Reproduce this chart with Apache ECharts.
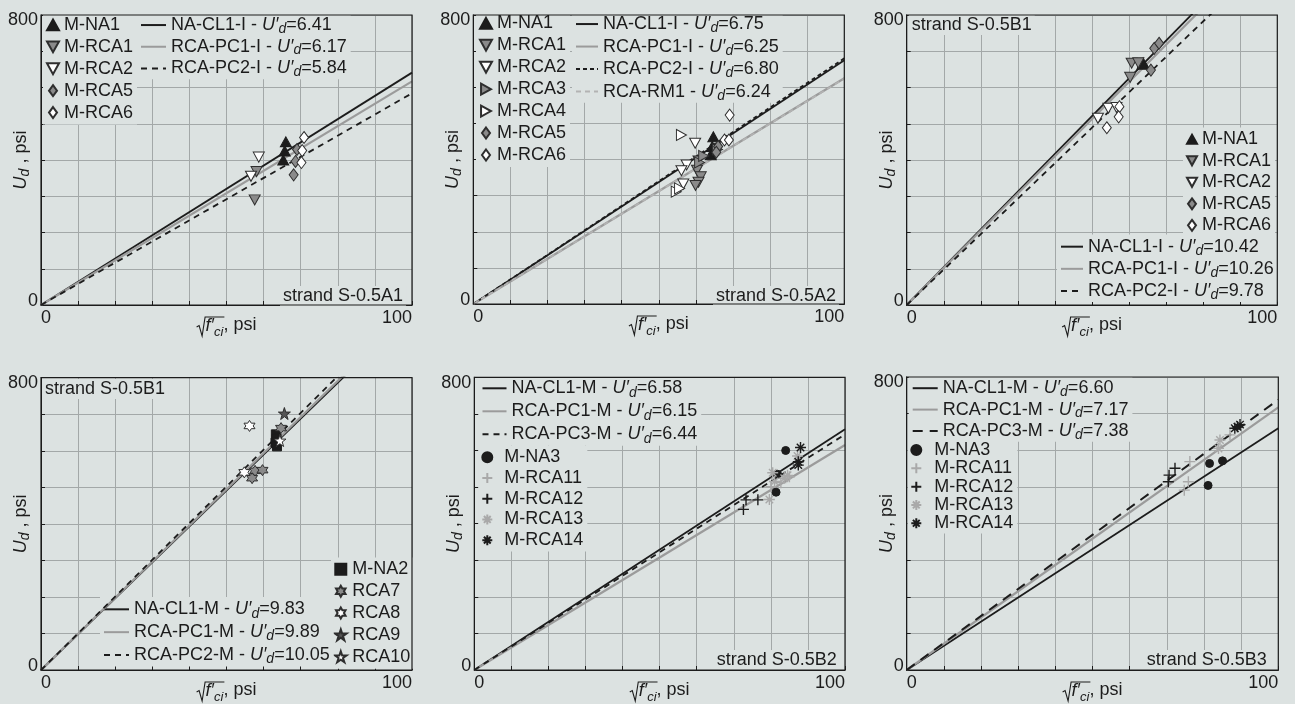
<!DOCTYPE html>
<html>
<head>
<meta charset="utf-8">
<script src="https://cdn.jsdelivr.net/npm/echarts@6/dist/echarts.min.js"></script>
<style>
  html, body { margin: 0; padding: 0; background: #dce2e1; }
  #chart { width: 1295px; height: 704px; }
</style>
</head>
<body>
<div id="chart"></div>
<script>
// ---------- axis ticks ----------
const xTickLabels = ['0', '100'];
const yTickLabels = ['0', '800'];
const X_MAX = 100, Y_MAX = 800;

// ---------- strand S-0.5A1 ----------
const A1_lineNames = ['NA-CL1-I', 'RCA-PC1-I', 'RCA-PC2-I'];
const A1_slopes = [6.41, 6.17, 5.84];
const A1_NA1  = [[66.0, 450], [65.7, 425], [65.3, 400]];
const A1_RCA1 = [[58.1, 368], [57.6, 290]];
const A1_RCA2 = [[58.7, 408], [56.6, 355]];
const A1_RCA5 = [[69.0, 429], [68.6, 396], [68.1, 359]];
const A1_RCA6 = [[70.9, 462], [70.4, 426], [70.2, 393]];

// ---------- strand S-0.5A2 ----------
const A2_lineNames = ['NA-CL1-I', 'RCA-PC1-I', 'RCA-PC2-I', 'RCA-RM1'];
const A2_slopes = [6.75, 6.25, 6.80, 6.24];
const A2_NA1  = [[64.7, 463], [64.4, 436], [64.0, 413]];
const A2_RCA1 = [[60.7, 396], [60.3, 370], [61.3, 352], [60.7, 337], [59.9, 328]];
const A2_RCA2 = [[59.8, 445], [57.5, 385], [56.1, 369], [56.6, 332]];
const A2_RCA3 = [[61.0, 392], [62.1, 410], [65.8, 428]];
const A2_RCA4 = [[56.1, 468], [54.7, 311], [55.6, 320]];
const A2_RCA5 = [[66.0, 436], [65.5, 420]];
const A2_RCA6 = [[69.1, 523], [67.7, 454], [68.9, 454]];

// ---------- strand S-0.5B1 (I) ----------
const B1I_lineNames = ['NA-CL1-I', 'RCA-PC1-I', 'RCA-PC2-I'];
const B1I_slopes = [10.42, 10.26, 9.78];
const B1I_NA1  = [[63.8, 668], [63.6, 664]];
const B1I_RCA1 = [[60.7, 667], [62.5, 668], [60.3, 628]];
const B1I_RCA2 = [[51.6, 515], [54.4, 543], [56.6, 545]];
const B1I_RCA5 = [[66.8, 708], [68.1, 722], [65.9, 648]];
const B1I_RCA6 = [[57.4, 547], [57.2, 519], [54.0, 489]];

// ---------- strand S-0.5B1 (M) ----------
const B1M_lineNames = ['NA-CL1-M', 'RCA-PC1-M', 'RCA-PC2-M'];
const B1M_slopes = [9.83, 9.89, 10.05];
const B1M_NA2   = [[63.3, 645], [63.5, 633], [63.2, 622], [63.6, 612]];
const B1M_RCA7  = [[57.7, 545], [59.7, 547], [56.9, 525], [64.7, 662]];
const B1M_RCA8  = [[56.2, 668], [54.8, 541]];
const B1M_RCA9  = [[65.6, 702]];
const B1M_RCA10 = [[64.4, 628]];

// ---------- strand S-0.5B2 ----------
const B2_lineNames = ['NA-CL1-M', 'RCA-PC1-M', 'RCA-PC3-M'];
const B2_slopes = [6.58, 6.15, 6.44];
const B2_NA3   = [[84.0, 600], [81.8, 535], [81.4, 486]];
const B2_RCA11 = [[80.0, 501], [82.7, 512], [85.0, 528]];
const B2_RCA12 = [[72.6, 439], [73.3, 465], [76.5, 465]];
const B2_RCA13 = [[87.2, 585], [80.5, 539], [83.6, 524], [84.5, 532], [79.6, 466], [81.0, 515]];
const B2_RCA14 = [[88.0, 608], [87.4, 569], [87.4, 560]];

// ---------- strand S-0.5B3 ----------
const B3_lineNames = ['NA-CL1-M', 'RCA-PC1-M', 'RCA-PC3-M'];
const B3_slopes = [6.60, 7.17, 7.38];
const B3_NA3   = [[81.5, 564], [85.0, 571], [81.1, 504]];
const B3_RCA11 = [[76.2, 569], [75.8, 514], [74.7, 491], [87.0, 642]];
const B3_RCA12 = [[72.2, 551], [70.6, 532], [70.4, 514]];
const B3_RCA13 = [[84.3, 628], [83.9, 605]];
const B3_RCA14 = [[88.3, 660], [89.7, 670], [89.0, 664]];

// ---------- styling ----------
const FONT = '"Liberation Sans", Arial, Helvetica, sans-serif';
const FS = 18;
const BG = '#dce2e1';
const INK = '#1c1c1c';
const EDGE = '#2e2e2e';
const MID = '#8a8a8a';
const LIGHT = '#a9a9a9';
const GRID_LINE = '#a3a8a8';

const SYM = {
  up: 'path://M5,0L10,9L0,9Z',
  down: 'path://M0,0L10,0L5,9Z',
  right: 'path://M0,0L9,5L0,10Z',
  diamond: 'path://M4,0L8,5.5L4,11L0,5.5Z',
  circle: 'path://M5,0A5,5,0,1,1,5,10A5,5,0,1,1,5,0Z',
  square: 'path://M0,0H10V10H0Z',
  plus: 'path://M5,0V10M0,5H10',
  aster: 'path://M5,0V10M0,5H10M1.6,1.6L8.4,8.4M8.4,1.6L1.6,8.4',
  star6: 'path://M5,0L6.44,2.5L9.33,2.5L7.89,5L9.33,7.5L6.44,7.5L5,10L3.56,7.5L0.67,7.5L2.11,5L0.67,2.5L3.56,2.5Z',
  star5: 'path://M5,0L6.12,3.45L9.76,3.45L6.82,5.59L7.94,9.05L5,6.91L2.06,9.05L3.18,5.59L0.24,3.45L3.88,3.45Z'
};

const MARK = {
  NA1:   { sym: SYM.up,      size: [11, 10], fill: INK,    stroke: INK,  bw: 1 },
  RCA1:  { sym: SYM.down,    size: [11, 10], fill: MID,    stroke: EDGE, bw: 1 },
  RCA2:  { sym: SYM.down,    size: [11, 10], fill: '#fff', stroke: EDGE, bw: 1 },
  RCA3:  { sym: SYM.right,   size: [10, 11], fill: MID,    stroke: EDGE, bw: 1 },
  RCA4:  { sym: SYM.right,   size: [10, 11], fill: '#fff', stroke: EDGE, bw: 1 },
  RCA5:  { sym: SYM.diamond, size: [9, 12],  fill: MID,    stroke: EDGE, bw: 1 },
  RCA6:  { sym: SYM.diamond, size: [9, 12],  fill: '#fff', stroke: EDGE, bw: 1 },
  NA2:   { sym: SYM.square,  size: [9, 9],   fill: INK,    stroke: INK,  bw: 1 },
  RCA7:  { sym: SYM.star6,   size: [11, 11], fill: MID,    stroke: EDGE, bw: 1 },
  RCA8:  { sym: SYM.star6,   size: [11, 11], fill: '#fff', stroke: EDGE, bw: 1 },
  RCA9:  { sym: SYM.star5,   size: [12, 12], fill: '#555', stroke: EDGE, bw: 1 },
  RCA10: { sym: SYM.star5,   size: [12, 12], fill: '#fff', stroke: EDGE, bw: 1 },
  NA3:   { sym: SYM.circle,  size: [8, 8],   fill: INK,    stroke: INK,  bw: 1 },
  RCA11: { sym: SYM.plus,    size: [11, 11], fill: LIGHT,  stroke: LIGHT, bw: 1.4 },
  RCA12: { sym: SYM.plus,    size: [11, 11], fill: INK,    stroke: INK,  bw: 1.4 },
  RCA13: { sym: SYM.aster,   size: [11, 11], fill: LIGHT,  stroke: LIGHT, bw: 1.4 },
  RCA14: { sym: SYM.aster,   size: [11, 11], fill: INK,    stroke: INK,  bw: 1.4 }
};

const LINE = {
  black:     { color: INK,       width: 1.8, type: 'solid' },
  gray:      { color: '#9b9b9b', width: 2.2, type: 'solid' },
  dash:      { color: INK,       width: 1.8, type: [6, 5] },
  dashShort: { color: INK,       width: 1.8, type: [4, 3] },
  dashLight: { color: '#b3b3b3', width: 1.8, type: [5, 4] },
  dashLong:  { color: INK,       width: 2.0, type: [10, 7] }
};

// plot rectangles (px)
const GRIDS = [
  { left: 41,    top: 15,    width: 371,   height: 290 },
  { left: 473.3, top: 15,    width: 371,   height: 289 },
  { left: 906.7, top: 15,    width: 370.6, height: 290 },
  { left: 41,    top: 377.7, width: 371,   height: 292.3 },
  { left: 474.3, top: 377.3, width: 370.7, height: 292.7 },
  { left: 906.7, top: 377,   width: 371.6, height: 293 }
];

const panels = [
  {
    key: 'A1', strand: { text: 'strand S-0.5A1', left: 280, top: 286 },
    lineNames: A1_lineNames, slopes: A1_slopes,
    lineStyles: [LINE.black, LINE.gray, LINE.dash],
    points: [['M-NA1', A1_NA1, MARK.NA1], ['M-RCA1', A1_RCA1, MARK.RCA1], ['M-RCA2', A1_RCA2, MARK.RCA2],
             ['M-RCA5', A1_RCA5, MARK.RCA5], ['M-RCA6', A1_RCA6, MARK.RCA6]],
    pointLegend: { left: 43, top: 13, itemWidth: 12, itemHeight: 11, rowH: 21.9 },
    lineLegend:  { left: 137, top: 13.2, itemWidth: 25, itemHeight: 10, rowH: 21.7 }
  },
  {
    key: 'A2', strand: { text: 'strand S-0.5A2', left: 713, top: 286 },
    lineNames: A2_lineNames, slopes: A2_slopes,
    lineStyles: [LINE.black, LINE.gray, LINE.dashShort, LINE.dashLight],
    points: [['M-NA1', A2_NA1, MARK.NA1], ['M-RCA1', A2_RCA1, MARK.RCA1], ['M-RCA2', A2_RCA2, MARK.RCA2],
             ['M-RCA3', A2_RCA3, MARK.RCA3], ['M-RCA4', A2_RCA4, MARK.RCA4], ['M-RCA5', A2_RCA5, MARK.RCA5],
             ['M-RCA6', A2_RCA6, MARK.RCA6]],
    pointLegend: { left: 476, top: 11.3, itemWidth: 12, itemHeight: 11, rowH: 21.95 },
    lineLegend:  { left: 572, top: 11.8, itemWidth: 22, itemHeight: 10, rowH: 22.5 }
  },
  {
    key: 'B1I', strand: { text: 'strand S-0.5B1', left: 908.7, top: 15 },
    lineNames: B1I_lineNames, slopes: B1I_slopes,
    lineStyles: [LINE.black, LINE.gray, LINE.dash],
    points: [['M-NA1', B1I_NA1, MARK.NA1], ['M-RCA1', B1I_RCA1, MARK.RCA1], ['M-RCA2', B1I_RCA2, MARK.RCA2],
             ['M-RCA5', B1I_RCA5, MARK.RCA5], ['M-RCA6', B1I_RCA6, MARK.RCA6]],
    pointLegend: { left: 1183, top: 127.6, itemWidth: 10, itemHeight: 11, rowH: 21.5 },
    lineLegend:  { left: 1057, top: 234.6, itemWidth: 22, itemHeight: 10, rowH: 22.15 }
  },
  {
    key: 'B1M', strand: { text: 'strand S-0.5B1', left: 42, top: 379 },
    lineNames: B1M_lineNames, slopes: B1M_slopes,
    lineStyles: [LINE.black, LINE.gray, LINE.dash],
    points: [['M-NA2', B1M_NA2, MARK.NA2], ['RCA7', B1M_RCA7, MARK.RCA7], ['RCA8', B1M_RCA8, MARK.RCA8],
             ['RCA9', B1M_RCA9, MARK.RCA9], ['RCA10', B1M_RCA10, MARK.RCA10]],
    pointLegend: { left: 331, top: 557.4, itemWidth: 13, itemHeight: 11, rowH: 21.85 },
    lineLegend:  { left: 100, top: 596.9, itemWidth: 25, itemHeight: 10, rowH: 22.85 }
  },
  {
    key: 'B2', strand: { text: 'strand S-0.5B2', left: 713.7, top: 650 },
    lineNames: B2_lineNames, slopes: B2_slopes,
    lineStyles: [LINE.black, LINE.gray, LINE.dash],
    points: [['M-NA3', B2_NA3, MARK.NA3], ['M-RCA11', B2_RCA11, MARK.RCA11], ['M-RCA12', B2_RCA12, MARK.RCA12],
             ['M-RCA13', B2_RCA13, MARK.RCA13], ['M-RCA14', B2_RCA14, MARK.RCA14]],
    pointLegend: { left: 478.3, top: 446, itemWidth: 24, itemHeight: 10, rowH: 20.7 },
    lineLegend:  { left: 478.5, top: 375.8, itemWidth: 24, itemHeight: 10, rowH: 23 }
  },
  {
    key: 'B3', strand: { text: 'strand S-0.5B3', left: 1143.7, top: 650 },
    lineNames: B3_lineNames, slopes: B3_slopes,
    lineStyles: [LINE.black, LINE.gray, LINE.dashLong],
    points: [['M-NA3', B3_NA3, MARK.NA3], ['M-RCA11', B3_RCA11, MARK.RCA11], ['M-RCA12', B3_RCA12, MARK.RCA12],
             ['M-RCA13', B3_RCA13, MARK.RCA13], ['M-RCA14', B3_RCA14, MARK.RCA14]],
    pointLegend: { left: 907.3, top: 439.9, itemWidth: 26, itemHeight: 10, rowH: 18.3 },
    lineLegend:  { left: 908.7, top: 376.5, itemWidth: 25, itemHeight: 10, rowH: 21.4 }
  }
];

// ---------- text measurement for the x-axis title ----------
const measureCtx = document.createElement('canvas').getContext('2d');
function textWidth(t, size, italic) {
  measureCtx.font = (italic ? 'italic ' : '') + size + 'px ' + FONT;
  return measureCtx.measureText(t).width;
}

function xAxisTitle(g) {
  const fw = textWidth('f′', FS, true);
  const cw = textWidth('ci', 13, true);
  const rw = textWidth(', psi', FS, false);
  const R = 9;
  const total = R + fw + cw + rw;
  const x0 = g.left + g.width / 2 - total / 2;
  const y0 = g.top + g.height + 12;
  const txt = (s, x, y, size, italic) => ({
    type: 'text', x: x, y: y, silent: true, z: 50,
    style: { text: s, fontSize: size, fontFamily: FONT, fontStyle: italic ? 'italic' : 'normal',
             fill: INK, align: 'left', verticalAlign: 'middle' }
  });
  return [
    { type: 'polyline', silent: true, z: 50,
      shape: { points: [[x0, y0 + 10], [x0 + 2.5, y0 + 8.5], [x0 + 5.5, y0 + 19], [x0 + R - 0.5, y0], [x0 + R + fw + cw + 1, y0]] },
      style: { stroke: INK, lineWidth: 1.1, fill: 'none' } },
    txt('f′', x0 + R, y0 + 8.5, FS, true),
    txt('ci', x0 + R + fw, y0 + 15, 13, true),
    txt(', psi', x0 + R + fw + cw, y0 + 8.5, FS, false)
  ];
}

function richFor(rowH) {
  return {
    n: { fontSize: FS, fontFamily: FONT, color: INK, lineHeight: rowH },
    i: { fontSize: FS, fontFamily: FONT, color: INK, fontStyle: 'italic', lineHeight: rowH },
    s: { fontSize: 14, fontFamily: FONT, color: INK, fontStyle: 'italic', lineHeight: rowH - 8, verticalAlign: 'bottom' }
  };
}

// ---------- build option ----------
const grid = [], xAxis = [], yAxis = [], series = [], legend = [], title = [], graphic = [];
const legendText = {};

panels.forEach((p, idx) => {
  const g = GRIDS[idx];
  grid.push({ left: g.left, top: g.top, width: g.width, height: g.height, containLabel: false,
              outerBoundsMode: 'none', show: false });

  xAxis.push({
    gridIndex: idx, type: 'value', min: 0, max: X_MAX, interval: 10,
    axisLine: { show: true, lineStyle: { color: INK, width: 1 } },
    axisTick: { show: true, inside: true, length: 4, lineStyle: { color: INK } },
    splitLine: { show: true, lineStyle: { color: GRID_LINE, width: 1 } },
    axisLabel: {
      margin: 4, color: INK, fontSize: FS, fontFamily: FONT,
      formatter: v => v === 0 ? xTickLabels[0] : (v === X_MAX ? xTickLabels[1] : ''),
      alignMinLabel: 'left', alignMaxLabel: 'right'
    }
  });

  yAxis.push({
    gridIndex: idx, type: 'value', min: 0, max: Y_MAX, interval: 100,
    axisLine: { show: true, lineStyle: { color: INK, width: 1 } },
    axisTick: { show: true, inside: true, length: 4, lineStyle: { color: INK } },
    splitLine: { show: true, lineStyle: { color: GRID_LINE, width: 1 } },
    axisLabel: {
      margin: 3, color: INK, fontSize: FS, fontFamily: FONT,
      formatter: v => v === 0 ? '{z|' + yTickLabels[0] + '}' : (v === Y_MAX ? '{t|' + yTickLabels[1] + '}' : ''),
      rich: {
        z: { fontSize: FS, fontFamily: FONT, color: INK, lineHeight: 8 },
        t: { fontSize: FS, fontFamily: FONT, color: INK, lineHeight: 11 }
      },
      verticalAlignMinLabel: 'bottom', verticalAlignMaxLabel: 'top'
    },
    name: '{i|U}{s|d}{n| , psi}',
    nameLocation: 'middle', nameRotate: 90, nameGap: 9, nameMoveOverlap: false,
    nameTextStyle: { rich: richFor(22) }
  });

  // fitted lines through the origin: U_d = U'_d * sqrt(f'ci)
  p.lineNames.forEach((nm, k) => {
    const id = p.key + ':' + nm;
    const st = p.lineStyles[k];
    legendText[id] = '{n|' + nm + ' - }{i|U′}{s|d}{n|=' + p.slopes[k].toFixed(2) + '}';
    series.push({
      type: 'line', name: id, xAxisIndex: idx, yAxisIndex: idx,
      data: [[0, 0], [X_MAX, p.slopes[k] * X_MAX]],
      symbol: 'none', showSymbol: false, clip: true, silent: true, z: 3,
      lineStyle: { color: st.color, width: st.width, type: st.type },
      itemStyle: { color: st.color }
    });
  });

  p.points.forEach(([nm, data, m]) => {
    const id = p.key + ':' + nm;
    legendText[id] = nm;
    series.push({
      type: 'scatter', name: id, xAxisIndex: idx, yAxisIndex: idx, data: data,
      symbol: m.sym, symbolSize: m.size, silent: true, z: 4,
      itemStyle: { color: m.fill, borderColor: m.stroke, borderWidth: m.bw, opacity: 1 }
    });
  });

  // legend boxes sit above the grid lines but under the plotted marks
  const mkLegend = (cfg, names, rich, isLines, z) => {
    const l = {
      show: true, orient: 'vertical', left: cfg.left, top: cfg.top,
      itemWidth: cfg.itemWidth, itemHeight: cfg.itemHeight, itemGap: 0,
      padding: isLines ? [1, 4, 0, 3] : [1, 4, 1, 3], backgroundColor: BG, selectedMode: false,
      symbolKeepAspect: true, z: z,
      data: names.map(n => p.key + ':' + n),
      formatter: id => legendText[id],
      textStyle: { fontSize: FS, fontFamily: FONT, color: INK, lineHeight: cfg.rowH, rich: rich }
    };
    // line entries show the stroke only
    if (isLines) l.itemStyle = { opacity: 0 };
    return l;
  };
  legend.push(mkLegend(p.pointLegend, p.points.map(d => d[0]), {}, false, 1));
  legend.push(mkLegend(p.lineLegend, p.lineNames, richFor(p.lineLegend.rowH), true, 2));

  title.push({
    text: p.strand.text, left: p.strand.left, top: p.strand.top,
    padding: [1, 3, 1, 3], backgroundColor: BG, z: 6,
    textStyle: { fontSize: FS, fontWeight: 'normal', fontFamily: FONT, color: INK, lineHeight: 18 }
  });

  // plot frame drawn above the legend boxes
  graphic.push({
    type: 'rect', silent: true, z: 60,
    shape: { x: g.left, y: g.top, width: g.width, height: g.height },
    style: { fill: 'none', stroke: INK, lineWidth: 1.2 }
  });
  xAxisTitle(g).forEach(e => graphic.push(e));
});

const chart = echarts.init(document.getElementById('chart'), null, { renderer: 'canvas' });
chart.setOption({
  animation: false,
  backgroundColor: BG,
  textStyle: { fontFamily: FONT },
  grid, xAxis, yAxis, series, legend, title, graphic
});
</script>
</body>
</html>
